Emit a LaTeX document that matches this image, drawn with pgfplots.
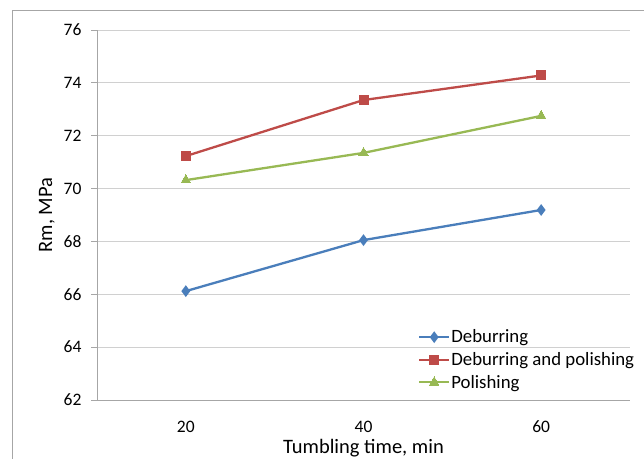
\documentclass[border=0pt]{standalone}
\usepackage{fontspec}
\setmainfont{Carlito}
\usepackage{pgfplots}
\pgfplotsset{compat=1.18}
\definecolor{sblue}{HTML}{4A7EBB}
\definecolor{sred}{HTML}{BE4B48}
\definecolor{sgreen}{HTML}{98B954}
\definecolor{gridc}{HTML}{D0D0D0}
\definecolor{axisc}{HTML}{A6A6A6}
\begin{document}
\begin{tikzpicture}
\path[use as bounding box] (0pt,0pt) rectangle (644pt,-458pt);
\draw[axisc, line width=1pt] (12pt,-10pt) rectangle (700pt,-520pt);
\begin{axis}[
  at={(97pt,-400pt)}, anchor=south west,
  scale only axis, width=533pt, height=370pt,
  xmin=10, xmax=70, ymin=62, ymax=76,
  xtick={20,40,60}, ytick={62,64,...,76},
  /pgf/number format/assume math mode=true,
  axis x line*=bottom, axis y line*=left,
  axis line style={axisc, line width=0.8pt},
  x axis line style={-}, y axis line style={-},
  xtick style={draw=none},
  ytick style={axisc, line width=0.8pt},
  tick align=outside, major tick length=6pt,
  ymajorgrids, grid style={gridc, line width=0.9pt},
  tick label style={font=\fontsize{17.5}{20}\selectfont, black},
  yticklabel style={anchor=east, xshift=-6pt},
  xticklabel style={anchor=center, yshift=-21pt, inner sep=0pt},
  xlabel={Tumbling time, min}, ylabel={Rm, MPa},
  label style={font=\fontsize{20.5}{24}\selectfont},
  xlabel style={at={(axis description cs:0.5,0)}, anchor=base, yshift=-53pt, inner sep=0pt},
  ylabel style={at={(axis description cs:-0.094,0.5)}, anchor=center},
  legend style={at={(0.602,0.19)}, anchor=north west, draw=none, fill=none,
    font=\fontsize{18.8}{23.5}\selectfont, row sep=8pt, inner sep=0pt,
    nodes={inner xsep=1pt, inner ysep=0pt},
    cells={anchor=west}},
  legend image code/.code={\draw[mark repeat=2,mark phase=2] plot coordinates {(0pt,0pt) (15pt,0pt) (30pt,0pt)};},
  every axis plot/.append style={line width=2.3pt},
  clip=false,
]
\addplot[sblue, mark=diamond*, mark size=4pt, mark options={solid}] coordinates {(20,66.12) (40,68.05) (60,69.19)};
\addlegendentry{Deburring}
\addplot[sred, mark=square*, mark size=4.5pt, mark options={line width=0pt}] coordinates {(20,71.23) (40,73.35) (60,74.28)};
\addlegendentry{Deburring and polishing}
\addplot[sgreen, mark=triangle*, mark size=5.5pt, mark options={line width=0pt}] coordinates {(20,70.32) (40,71.35) (60,72.75)};
\addlegendentry{Polishing}
\end{axis}
\end{tikzpicture}
\end{document}
